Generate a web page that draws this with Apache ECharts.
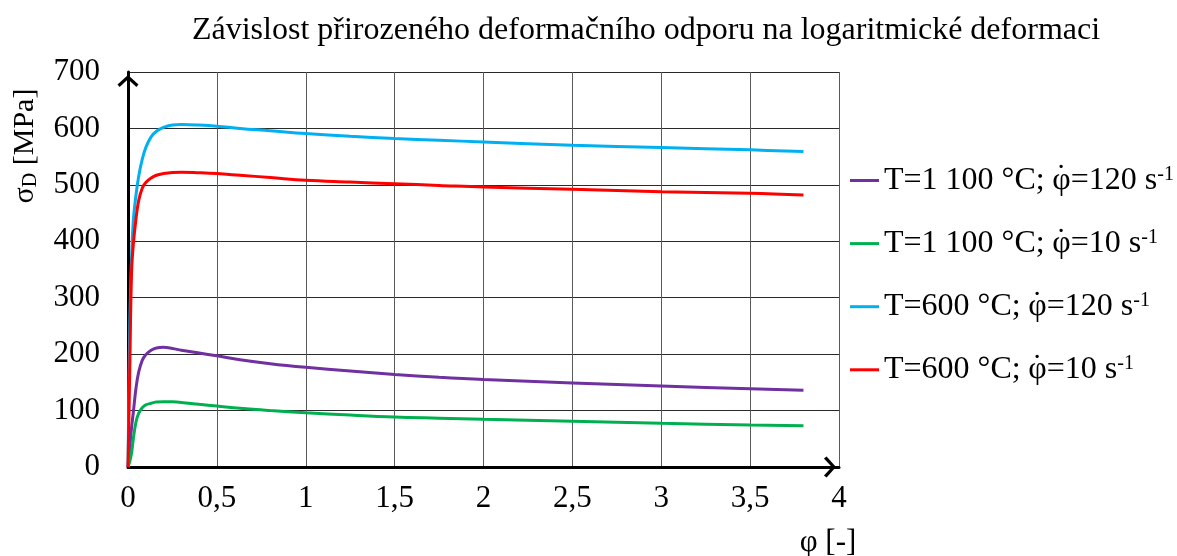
<!DOCTYPE html>
<html>
<head>
<meta charset="utf-8">
<script src="https://cdn.jsdelivr.net/npm/echarts@6/dist/echarts.min.js"></script>
<style>
  html, body { margin: 0; padding: 0; background: #fff; }
  #chart { width: 1177px; height: 556px; }
</style>
</head>
<body>
<div id="chart"></div>
<script>
// ---- data ----
const chartTitle = 'Závislost přirozeného deformačního odporu na logaritmické deformaci';
const yAxisTitle = ['σ', 'D', ' [MPa]'];
const xAxisTitle = 'φ [-]';
const xTicks = [0, 0.5, 1, 1.5, 2, 2.5, 3, 3.5, 4];
const yTicks = [0, 100, 200, 300, 400, 500, 600, 700];

const phi = [0, 0.01, 0.02, 0.03, 0.045, 0.06, 0.08, 0.1, 0.13, 0.16, 0.2, 0.25, 0.3, 0.4, 0.5, 0.63, 0.8, 1, 1.25, 1.5, 1.75, 2, 2.5, 3, 3.5, 3.8];

const seriesNames = [
  'T=1 100 °C; φ̇=120 s-1',
  'T=1 100 °C; φ̇=10 s-1',
  'T=600 °C; φ̇=120 s-1',
  'T=600 °C; φ̇=10 s-1'
];
const t1100_r120 = [0, 35, 70, 97, 140, 168, 189, 199, 207, 211, 212, 210, 207, 202, 197, 190, 183, 176.6, 170, 164, 159, 155, 149, 143.5, 138.7, 136];
const t1100_r10  = [0, 10, 25, 50, 80, 95, 105, 110, 113, 115, 115.7, 115.5, 114.5, 111, 108, 104, 100, 96, 92, 88.6, 86.5, 84.5, 81, 77.4, 74.4, 73.2];
const t600_r120  = [0, 250, 370, 437, 482, 515, 545, 566, 585, 595, 602, 606, 607, 606, 604, 600, 596, 591, 586, 582, 579, 576, 570, 566, 562, 559];
const t600_r10   = [0, 175, 345, 395, 440, 472, 494, 504, 512, 517, 520, 522, 522.5, 521.5, 520, 517, 513, 508, 505, 502, 499, 496, 492, 488, 485, 482];
const seriesValues = [t1100_r120, t1100_r10, t600_r120, t600_r10];
const seriesColors = ['#7030A0', '#00B050', '#00B0F0', '#FF0000'];

// ---- chart ----
const FONT = "'Liberation Serif', 'Times New Roman', serif";
const chart = echarts.init(document.getElementById('chart'), null, { renderer: 'canvas' });

const chevron = 'path://M10,0 L20,9 L18,11.5 L10,4 L2,11.5 L0,9 Z';
const fmt = v => String(v).replace('.', ',');

const series = seriesNames.map((name, i) => ({
  name: name,
  type: 'line',
  data: phi.map((x, k) => [x, seriesValues[i][k]]),
  showSymbol: false,
  symbol: 'none',
  smooth: 0.4,
  lineStyle: { color: seriesColors[i], width: 3 },
  itemStyle: { color: seriesColors[i] },
  z: 3
}));

// legend label: "T=... ; φ̇=120 s^-1" as rich text (dot placed over φ, superscript -1)
function legendLabel(name) {
  const m = name.match(/^(.*?)φ̇(.*?)-1$/);
  if (!m) return name;
  return '{t|' + m[1] + '}{dot|˙}{t|φ' + m[2] + '}{sup|-1}';
}

chart.setOption({
  animation: false,
  backgroundColor: '#fff',
  title: {
    text: chartTitle,
    left: 641,
    top: 10,
    textAlign: 'center',
    textStyle: { fontFamily: FONT, fontSize: 32, fontWeight: 'normal', color: '#000' }
  },
  grid: { left: 128, right: 338, top: 72, bottom: 89, containLabel: false },
  legend: {
    orient: 'vertical',
    left: 850,
    top: 162,
    padding: 0,
    itemGap: 26.1,
    itemWidth: 29,
    itemHeight: 3,
    icon: 'rect',
    data: seriesNames,
    formatter: legendLabel,
    textStyle: {
      fontFamily: FONT, fontSize: 32, color: '#000',
      rich: {
        t: { fontFamily: FONT, fontSize: 32, color: '#000', lineHeight: 32, verticalAlign: 'middle' },
        dot: { fontFamily: FONT, fontSize: 32, color: '#000', lineHeight: 32, verticalAlign: 'middle', padding: [0, -14, 5, 3] },
        sup: { fontFamily: FONT, fontSize: 20, color: '#000', lineHeight: 32, verticalAlign: 'top', padding: [0, 0, 12, 0] }
      }
    }
  },
  xAxis: {
    type: 'value',
    min: xTicks[0],
    max: xTicks[xTicks.length - 1],
    interval: 0.5,
    axisLine: {
      show: true, onZero: false,
      lineStyle: { color: '#000', width: 3 },
      symbol: ['none', chevron],
      symbolSize: [21, 19],
      symbolOffset: [0, -9]
    },
    axisTick: { show: false },
    axisLabel: { formatter: fmt, fontFamily: FONT, fontSize: 31, color: '#000', margin: 16 },
    splitLine: { show: true, lineStyle: { color: '#5a5a5a', width: 1 } }
  },
  yAxis: {
    type: 'value',
    min: yTicks[0],
    max: yTicks[yTicks.length - 1],
    interval: 100,
    axisLine: {
      show: true, onZero: false,
      lineStyle: { color: '#000', width: 3 },
      symbol: ['none', chevron],
      symbolSize: [21, 19],
      symbolOffset: [0, -9]
    },
    axisTick: { show: false },
    axisLabel: { fontFamily: FONT, fontSize: 31, color: '#000', margin: 28 },
    splitLine: { show: true, lineStyle: { color: '#2a2a2a', width: 1 } }
  },
  graphic: [
    {
      type: 'text',
      x: 25, y: 146,
      rotation: Math.PI / 2,
      style: {
        text: '{a|' + yAxisTitle[0] + '}{sub|' + yAxisTitle[1] + '}{a|' + yAxisTitle[2] + '}',
        align: 'center',
        verticalAlign: 'middle',
        fill: '#000',
        rich: {
          a: { fontFamily: FONT, fontSize: 30, fill: '#000', color: '#000', lineHeight: 32, verticalAlign: 'middle' },
          sub: { fontFamily: FONT, fontSize: 20, fill: '#000', color: '#000', lineHeight: 32, verticalAlign: 'bottom', padding: [10, 0, 0, 0] }
        }
      }
    },
    {
      type: 'text',
      x: 828, y: 543,
      style: {
        text: xAxisTitle,
        align: 'center',
        verticalAlign: 'middle',
        fill: '#000',
        font: "31px 'Liberation Serif'"
      }
    }
  ],
  series: series
});
</script>
</body>
</html>
